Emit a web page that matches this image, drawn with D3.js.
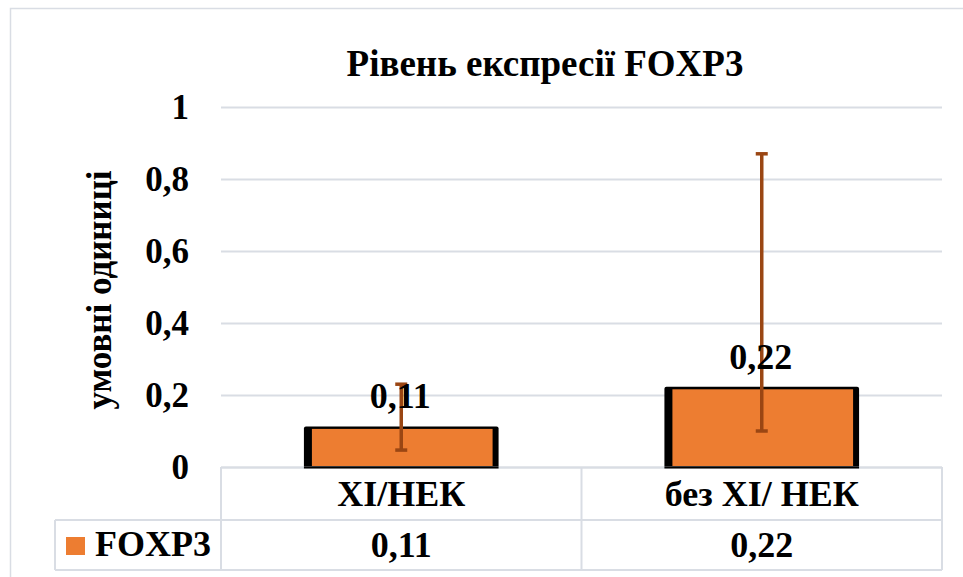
<!DOCTYPE html>
<html>
<head>
<meta charset="utf-8">
<script src="https://cdn.jsdelivr.net/npm/d3@7"></script>
<style>
  html, body { margin: 0; padding: 0; background: #fff; }
  svg { display: block; }
</style>
</head>
<body>
<svg id="chart" width="963" height="577"></svg>
<script>
// Chart data
const chartTitle = "Рівень експресії FOXP3";
const yAxisTitle = "умовні одиниці";
const seriesName = "FOXP3";
const categories = ["ХІ/НЕК", "без ХІ/ НЕК"];
const values = [0.11, 0.22];
const errorLow = [0.047, 0.10];   // lower end of each error bar
const errorHigh = [0.23, 0.87];   // upper end of each error bar
const yTicks = [0, 0.2, 0.4, 0.6, 0.8, 1];

const fmt = v => String(+v.toFixed(2)).replace(".", ",");
const FONT = "'Liberation Serif', 'Times New Roman', serif";

const svg = d3.select("#chart");

const plot = { left: 221, right: 942, top: 107, bottom: 467 };
const tableRow1 = 520, tableBottom = 570, legendLeft = 55;

const gridColor = "#d9dde4";
const orange = "#ED7D31";
const errColor = "#9A4613";

// helper for bold serif text
function label(sel, size) {
  return sel.style("font-family", FONT).style("font-weight", "bold")
    .style("font-size", size + "px").style("fill", "#000");
}

// Outer chart frame
svg.append("rect")
  .attr("x", 10.5).attr("y", 8.5)
  .attr("width", 970).attr("height", 600)
  .attr("fill", "none").attr("stroke", gridColor).attr("stroke-width", 1.5);

const x = d3.scaleBand().domain(categories).range([plot.left, plot.right]).padding(0);
const y = d3.scaleLinear().domain([0, 1]).range([plot.bottom, plot.top]);

// Title
label(svg.append("text"), 37)
  .attr("x", 545).attr("y", 76)
  .attr("text-anchor", "middle")
  .text(chartTitle);

// Y axis with gridlines
const yAxis = d3.axisLeft(y)
  .tickValues(yTicks)
  .tickSize(-(plot.right - plot.left))
  .tickPadding(32)
  .tickFormat(fmt);

const gy = svg.append("g")
  .attr("transform", `translate(${plot.left},0)`)
  .call(yAxis);
gy.select(".domain").remove();
gy.selectAll(".tick line").attr("stroke", gridColor).attr("stroke-width", 2);
label(gy.selectAll(".tick text"), 35).attr("dy", "0.34em");

// Y axis title
label(svg.append("text"), 35)
  .attr("transform", "translate(111,290) rotate(-90)")
  .attr("text-anchor", "middle")
  .text(yAxisTitle);

// Bars
const barFrac = 0.54;
const bw = x.bandwidth() * barFrac;
const bars = svg.append("g");
categories.forEach((c, i) => {
  const cx = x(c) + x.bandwidth() / 2;
  const top = y(values[i]);
  const bx = cx - bw / 2;
  bars.append("rect")
    .attr("x", bx).attr("y", top - 1)
    .attr("width", bw).attr("height", y(0) - top + 2)
    .attr("rx", 2)
    .attr("fill", "#000");
  bars.append("rect")
    .attr("x", bx + 8).attr("y", top + 1.5)
    .attr("width", bw - 14).attr("height", y(0) - top - 2.5)
    .attr("fill", orange);
});

// Error bars
const errs = svg.append("g").attr("stroke", errColor).attr("stroke-width", 3.5);
categories.forEach((c, i) => {
  const cx = x(c) + x.bandwidth() / 2;
  errs.append("line").attr("x1", cx).attr("x2", cx)
    .attr("y1", y(errorHigh[i])).attr("y2", y(errorLow[i]));
  [errorHigh[i], errorLow[i]].forEach(v => {
    errs.append("line").attr("x1", cx - 6).attr("x2", cx + 6)
      .attr("y1", y(v)).attr("y2", y(v));
  });
});

// Value labels above bars
categories.forEach((c, i) => {
  label(svg.append("text"), 36)
    .attr("x", x(c) + x.bandwidth() / 2 - 1)
    .attr("y", y(values[i]) - 19)
    .attr("text-anchor", "middle")
    .text(fmt(values[i]));
});

// Data table below the plot
const tbl = svg.append("g").attr("stroke", gridColor).attr("stroke-width", 2).attr("fill", "none");
tbl.append("line").attr("x1", plot.left).attr("x2", plot.right).attr("y1", plot.bottom + 0.5).attr("y2", plot.bottom + 0.5);
tbl.append("line").attr("x1", legendLeft).attr("x2", plot.right).attr("y1", tableRow1).attr("y2", tableRow1);
tbl.append("line").attr("x1", legendLeft).attr("x2", plot.right).attr("y1", tableBottom).attr("y2", tableBottom);
tbl.append("line").attr("x1", legendLeft).attr("x2", legendLeft).attr("y1", tableRow1).attr("y2", tableBottom);
[plot.left, x(categories[1]), plot.right].forEach(xx => {
  tbl.append("line").attr("x1", xx).attr("x2", xx).attr("y1", plot.bottom).attr("y2", tableBottom);
});
// bar bases drawn over the table's top edge
categories.forEach((c) => {
  const cx = x(c) + x.bandwidth() / 2;
  svg.append("line").attr("x1", cx - bw / 2).attr("x2", cx + bw / 2)
    .attr("y1", plot.bottom + 0.5).attr("y2", plot.bottom + 0.5)
    .attr("stroke", "#000").attr("stroke-width", 2);
});

categories.forEach((c, i) => {
  const cx = x(c) + x.bandwidth() / 2;
  label(svg.append("text"), 36).attr("x", cx).attr("y", 506)
    .attr("text-anchor", "middle").text(c);
  label(svg.append("text"), 36).attr("x", cx).attr("y", 557)
    .attr("text-anchor", "middle").text(fmt(values[i]));
});

// Legend key
svg.append("rect").attr("x", 66).attr("y", 537).attr("width", 19).attr("height", 18).attr("fill", orange);
label(svg.append("text"), 36).attr("x", 95).attr("y", 556).text(seriesName);
</script>
</body>
</html>
